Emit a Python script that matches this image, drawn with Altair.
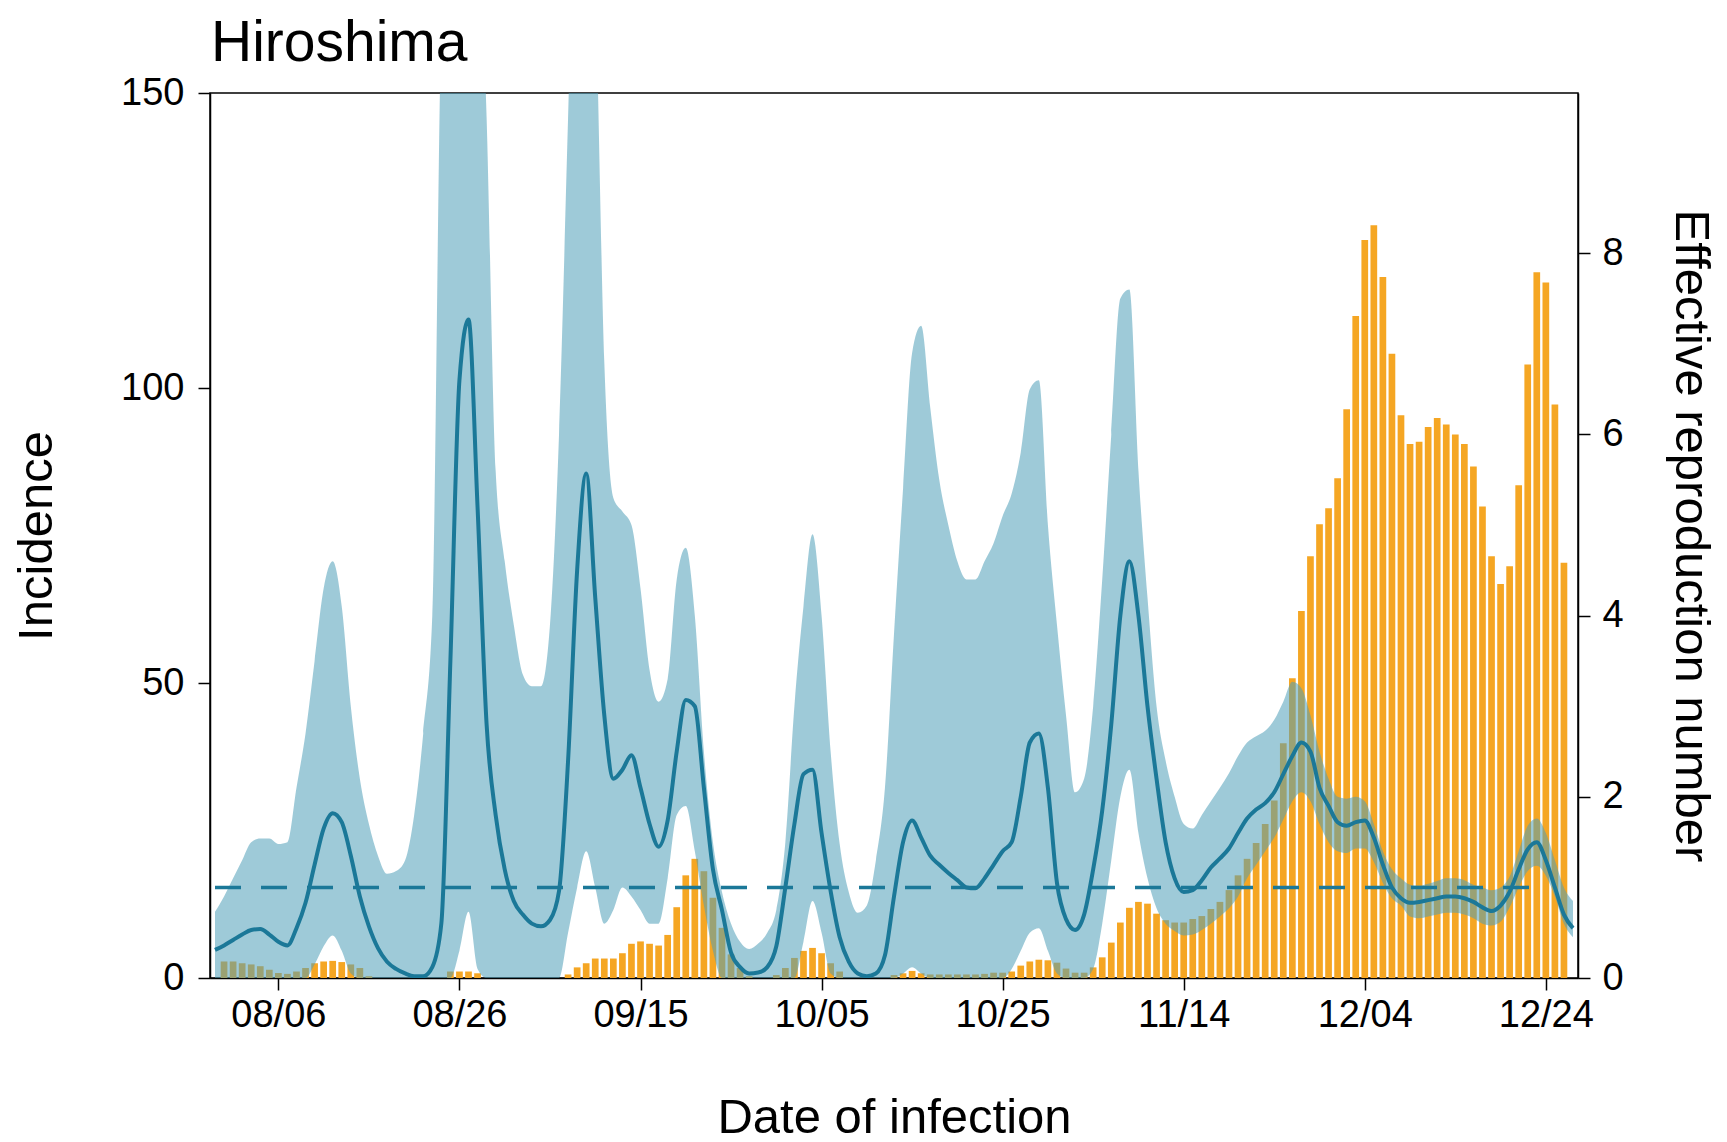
import altair as alt
import pandas as pd

# ---------------- data ----------------
chart_title = ["Hiroshima"]
rt_start = "2020-07-30"      # first day of the Rt series (left edge of plot)
inc_start = "2020-07-31"     # first incidence bar
x_domain = ("2020-07-30", "2020-12-27")
tick_dates = ["2020-08-06", "2020-08-26", "2020-09-15", "2020-10-05",
              "2020-10-25", "2020-11-14", "2020-12-04", "2020-12-24"]
threshold_span = ("2020-07-30", "2020-12-24")
threshold_value = [1.0]

incidence = [
    2.8, 2.8, 2.5, 2.3, 2.0, 1.4, 0.85, 0.7, 1.1, 1.7,
    2.5, 2.8, 2.9, 2.7, 2.3, 1.7, 0.3, 0, 0, 0,
    0, 0, 0, 0, 0, 1.1, 1.1, 1.1, 0.8, 0,
    0, 0, 0, 0, 0, 0, 0, 0, 0.6, 1.8,
    2.5, 3.3, 3.3, 3.3, 4.2, 5.8, 6.2, 5.8, 5.5, 7.3,
    12.0, 17.4, 20.2, 18.1, 13.6, 8.5, 4.0, 1.7, 0.3, 0,
    0, 0.5, 1.7, 3.4, 4.6, 5.1, 4.2, 2.5, 1.1, 0,
    0, 0, 0, 0, 0.5, 0.8, 1.2, 0.8, 0.6, 0.6,
    0.6, 0.6, 0.6, 0.6, 0.7, 0.9, 0.9, 1.1, 2.1, 2.8,
    3.1, 3.0, 2.6, 1.6, 0.9, 0.9, 1.8, 3.5, 6.0, 9.4,
    11.9, 12.9, 12.6, 10.9, 9.8, 9.4, 9.4, 10.0, 10.5, 11.7,
    12.9, 14.9, 17.4, 20.2, 22.9, 26.1, 30.1, 39.8, 50.8, 62.2,
    71.5, 76.9, 79.6, 84.7, 96.4, 112.2, 125.1, 127.6, 118.8, 105.8,
    95.4, 90.5, 90.9, 93.4, 94.9, 93.8, 92.1, 90.5, 86.7, 79.9,
    71.5, 66.8, 69.8, 83.5, 104.0, 119.6, 117.9, 97.2, 70.4,
]

rt_median = [
    0.31, 0.36, 0.42, 0.48, 0.53, 0.54, 0.48, 0.40, 0.36, 0.55,
    0.83, 1.25, 1.65, 1.82, 1.72, 1.35, 0.9, 0.57, 0.33, 0.18,
    0.1, 0.05, 0.02, 0.02, 0.12, 0.6, 3.5, 6.6, 7.27, 5.2,
    2.8, 1.8, 1.2, 0.85, 0.7, 0.6, 0.57, 0.64, 0.96, 2.4,
    4.5, 5.57, 4.2, 2.9, 2.2, 2.3, 2.46, 2.1, 1.7, 1.45,
    1.74, 2.5, 3.07, 3.0, 2.1, 1.2, 0.75, 0.28, 0.12, 0.05,
    0.06, 0.12, 0.35, 1.0, 1.7, 2.25, 2.3, 1.6, 0.96, 0.45,
    0.18, 0.05, 0.02, 0.05, 0.25, 0.9, 1.5, 1.74, 1.55, 1.35,
    1.25, 1.16, 1.08, 1.0, 0.99, 1.1, 1.25, 1.4, 1.5, 2.0,
    2.6, 2.7, 2.1, 1.05, 0.65, 0.53, 0.7, 1.2, 1.85, 2.8,
    4.0, 4.6, 4.0, 3.0, 2.2, 1.5, 1.1, 0.95, 0.97, 1.08,
    1.22, 1.32, 1.43, 1.6, 1.76, 1.86, 1.93, 2.05, 2.25, 2.45,
    2.6, 2.5, 2.1, 1.9, 1.72, 1.68, 1.72, 1.74, 1.55, 1.25,
    1.0, 0.88, 0.83, 0.84, 0.86, 0.88, 0.9, 0.9, 0.88, 0.84,
    0.78, 0.74, 0.8, 0.95, 1.2, 1.42, 1.5, 1.3, 1.0, 0.7,
    0.55,
]

rt_upper = [
    0.73, 0.9, 1.1, 1.3, 1.5, 1.54, 1.54, 1.48, 1.5, 2.1,
    2.7, 3.5, 4.3, 4.6, 4.1, 3.0, 2.2, 1.7, 1.35, 1.15,
    1.18, 1.3, 1.8, 2.7, 4.0, 10.5, 12, 14, 14, 12,
    9.5, 5.6, 4.6, 3.9, 3.35, 3.22, 3.22, 3.9, 6.0, 9.5,
    13, 13, 11, 6.8, 5.3, 5.15, 5.0, 4.3, 3.4, 3.05,
    3.3, 4.4, 4.75, 4.0, 2.5, 1.5, 0.95, 0.6, 0.4, 0.32,
    0.38, 0.5, 0.75, 1.5, 3.0, 4.1, 4.9, 4.0, 2.5, 1.48,
    0.95, 0.72, 0.8, 1.3, 2.1, 3.8, 5.4, 6.9, 7.2, 6.3,
    5.5, 5.0, 4.6, 4.4, 4.4, 4.6, 4.8, 5.1, 5.35, 5.8,
    6.5, 6.6, 5.0, 3.9, 2.9, 2.05, 2.2, 3.0, 4.4, 6.0,
    7.5, 7.6, 5.6, 4.2, 3.0, 2.4, 2.0, 1.7, 1.65, 1.8,
    1.95, 2.1, 2.26, 2.45, 2.6, 2.67, 2.73, 2.85, 3.05, 3.27,
    3.2, 2.9, 2.5, 2.2, 2.0, 1.98, 2.0, 1.95, 1.7, 1.4,
    1.2, 1.1, 1.03, 1.02, 1.04, 1.07, 1.1, 1.1, 1.08, 1.03,
    1.0, 0.97, 1.0, 1.12, 1.4, 1.68, 1.76, 1.6, 1.3, 1.0,
    0.85,
]

rt_lower = [
    0, 0, 0, 0, 0, 0, 0, 0, 0, 0,
    0, 0.15, 0.35, 0.47, 0.3, 0.05, 0, 0, 0, 0,
    0, 0, 0, 0, 0, 0, 0, 0.3, 0.73, 0.1,
    0, 0, 0, 0, 0, 0, 0, 0, 0, 0.5,
    1.0, 1.4, 1.0, 0.6, 0.75, 1.0, 0.9, 0.75, 0.6, 0.6,
    1.1, 1.8, 1.9, 1.4, 0.8, 0.3, 0, 0, 0, 0,
    0, 0, 0, 0, 0, 0.4, 0.85, 0.5, 0.05, 0,
    0, 0, 0, 0, 0, 0, 0.05, 0.12, 0.05, 0,
    0, 0, 0, 0, 0, 0, 0, 0, 0.1, 0.3,
    0.5, 0.55, 0.3, 0.05, 0, 0, 0, 0.1, 0.6, 1.3,
    2.0, 2.3, 1.6, 1.1, 0.77, 0.6, 0.52, 0.47, 0.48, 0.53,
    0.6, 0.68, 0.77, 0.9, 1.1, 1.25, 1.4, 1.55, 1.75, 1.95,
    2.05, 1.95, 1.7, 1.5, 1.4, 1.38, 1.43, 1.43, 1.28, 1.05,
    0.88, 0.8, 0.68, 0.66, 0.68, 0.7, 0.72, 0.72, 0.7, 0.66,
    0.6, 0.58, 0.62, 0.78, 1.0, 1.18, 1.24, 1.13, 0.9, 0.6,
    0.45,
]

# ---------------- tables ----------------
inc_df = pd.DataFrame({
    "date": pd.date_range(inc_start, periods=len(incidence), freq="D").strftime("%Y-%m-%d"),
    "incidence": incidence,
})
rt_df = pd.DataFrame({
    "date": pd.date_range(rt_start, periods=len(rt_median), freq="D").strftime("%Y-%m-%d"),
    "median": rt_median,
    "lower": rt_lower,
    "upper": rt_upper,
})
thr_df = pd.DataFrame({"start": [threshold_span[0]], "end": [threshold_span[1]],
                       "rt": threshold_value})
title_df = pd.DataFrame({"label": chart_title})


def dt(s):
    y, m, d = (int(v) for v in s.split("-"))
    return alt.DateTime(year=y, month=m, date=d, utc=True)


FONT = "Liberation Sans"
ORANGE = "#F5A623"
BAND = "#4F9FB8"
LINE = "#1B7898"

W, H = 1368, 885
RT_MAX = 9.77

x_scale = alt.Scale(type="utc", domain=[dt(x_domain[0]), dt(x_domain[1])], nice=False)
x_axis = alt.Axis(values=[dt(s) for s in tick_dates],
                  labelExpr="utcFormat(datum.value, '%m/%d')",
                  title="Date of infection", labelPadding=6,
                  titleX=W / 2, titleY=139, titleBaseline="middle", titleAlign="center")
x_enc = alt.X("date:T", scale=x_scale, axis=x_axis)

rt_scale = alt.Scale(domain=[0, RT_MAX], nice=False, zero=True)
rt_axis = alt.Axis(orient="right", values=[0, 2, 4, 6, 8], title="Effective reproduction number",
                   labelPadding=12, titleAngle=90, titleX=112, titleY=H / 2,
                   titleBaseline="middle", titleAlign="center")

bars = alt.Chart(inc_df).mark_bar(color=ORANGE, size=6.7).encode(
    x=x_enc,
    y=alt.Y("incidence:Q", scale=alt.Scale(domain=[0, 150], nice=False),
            axis=alt.Axis(orient="left", values=[0, 50, 100, 150], title="Incidence",
                          labelPadding=14, titleAngle=270, titleX=-174, titleY=H / 2,
                          titleBaseline="middle", titleAlign="center")),
)

band = alt.Chart(rt_df).mark_area(color=BAND, opacity=0.55, clip=True,
                                  interpolate="monotone").encode(
    x=x_enc,
    y=alt.Y("lower:Q", scale=rt_scale, axis=rt_axis),
    y2="upper:Q",
)

threshold = alt.Chart(thr_df).mark_rule(color=LINE, strokeWidth=3.5,
                                        strokeDash=[26, 20]).encode(
    x=alt.X("start:T", scale=x_scale, axis=x_axis),
    x2="end:T",
    y=alt.Y("rt:Q", scale=rt_scale, axis=rt_axis),
)

line = alt.Chart(rt_df).mark_line(color=LINE, strokeWidth=4, clip=True,
                                  interpolate="monotone").encode(
    x=x_enc,
    y=alt.Y("median:Q", scale=rt_scale, axis=rt_axis),
)

title_text = alt.Chart(title_df).mark_text(
    align="left", baseline="alphabetic", font=FONT, fontSize=57, color="black"
).encode(x=alt.value(1), y=alt.value(-32), text="label:N")

rt_layer = alt.layer(band, threshold, line)

chart = (
    alt.layer(bars, rt_layer, title_text)
    .resolve_scale(y="independent")
    .properties(
        width=W, height=H,
        autosize=alt.AutoSizeParams(type="none"),
        padding={"left": 202, "top": 85, "right": 140, "bottom": 164},
    )
    .configure_axis(labelFont=FONT, titleFont=FONT, labelFontSize=38, titleFontSize=49,
                    titleFontWeight="normal", labelColor="black", titleColor="black",
                    tickColor="black", domainColor="black", tickSize=12, tickWidth=1.5,
                    domainWidth=1.5, grid=False)
    .configure_view(stroke="black", strokeWidth=1.5)
)

chart.save("out.html", embed_options={"renderer": "svg", "actions": False})
